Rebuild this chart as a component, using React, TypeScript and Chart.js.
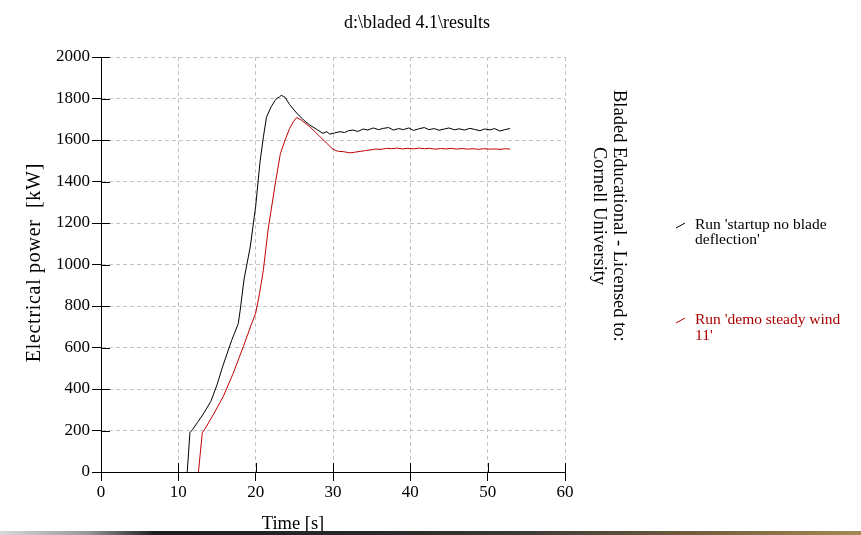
import { useEffect, useRef } from "react"
import { Chart, registerables } from "chart.js"

Chart.register(...registerables)

// [time s, power kW]
const startupRun: [number, number][] = [
  [11.15, 0], [11.5, 190], [11.85, 205], [12.5, 240], [13.15, 275], [14.2, 340],
  [15.0, 420], [15.7, 505], [16.9, 635], [17.75, 715], [18.0, 780], [18.5, 930],
  [19.3, 1085], [20.0, 1280], [20.55, 1490], [21.0, 1615], [21.4, 1710], [22.0, 1760],
  [22.5, 1790], [22.8, 1803], [23.1, 1808], [23.3, 1815], [23.6, 1810], [23.8, 1806],
  [24.4, 1770], [25.3, 1730], [26.2, 1696], [27.0, 1672], [27.9, 1651], [28.7, 1632],
  [29.2, 1640], [29.6, 1628], [30.2, 1634], [30.9, 1640], [31.5, 1636], [32.0, 1645],
  [32.6, 1648], [33.2, 1641], [33.9, 1653], [34.5, 1648], [35.2, 1658], [35.9, 1650],
  [36.5, 1656], [37.2, 1660], [37.8, 1648], [38.5, 1655], [39.1, 1650], [39.8, 1658],
  [40.4, 1646], [41.1, 1654], [41.8, 1660], [42.4, 1650], [43.1, 1655], [43.7, 1647],
  [44.4, 1653], [45.0, 1658], [45.7, 1649], [46.3, 1654], [47.0, 1648], [47.7, 1656],
  [48.3, 1651], [49.0, 1645], [49.6, 1653], [50.3, 1649], [50.9, 1655], [51.6, 1643],
  [52.2, 1650], [52.9, 1655],
]

const steadyWindRun: [number, number][] = [
  [12.6, 0], [13.1, 190], [13.35, 202], [14.5, 275], [15.8, 363], [17.1, 476],
  [18.4, 604], [19.5, 717], [20.0, 765], [20.5, 860], [21.0, 975], [21.6, 1166],
  [22.6, 1405], [23.2, 1535], [23.8, 1600], [24.4, 1656], [24.9, 1690], [25.3, 1708],
  [25.9, 1696], [27.0, 1664], [28.1, 1624], [29.2, 1584], [30.0, 1555], [30.7, 1545],
  [31.3, 1544], [32.2, 1538], [32.8, 1541], [33.5, 1545], [34.2, 1549], [34.8, 1552],
  [35.5, 1556], [36.2, 1555], [36.9, 1560], [37.6, 1558], [38.3, 1561], [39.0, 1557],
  [39.7, 1560], [40.4, 1557], [41.1, 1561], [41.8, 1558], [42.5, 1560], [43.2, 1556],
  [43.9, 1559], [44.6, 1557], [45.3, 1560], [46.0, 1556], [46.7, 1559], [47.4, 1556],
  [48.1, 1558], [48.8, 1555], [49.5, 1558], [50.2, 1556], [50.9, 1557], [51.6, 1555],
  [52.3, 1558], [52.9, 1556],
]

const timeRange = [0, 60]
const powerRange = [0, 2000]

const RED = "#c00000"
const SERIF = "'Liberation Serif', 'Times New Roman', serif"

// tick marks that also reach 9px into the plot area
const innerTicks = {
  id: "innerTicks",
  beforeDatasetsDraw(chart: any) {
    const { ctx, chartArea, scales } = chart
    ctx.save()
    ctx.strokeStyle = "#000"
    ctx.lineWidth = 1
    scales.x.ticks.forEach((_: any, i: number) => {
      const px = Math.round(scales.x.getPixelForTick(i)) + 0.5
      ctx.beginPath()
      ctx.moveTo(px, chartArea.bottom)
      ctx.lineTo(px, chartArea.bottom - 9)
      ctx.stroke()
    })
    scales.y.ticks.forEach((_: any, i: number) => {
      const py = Math.round(scales.y.getPixelForTick(i)) + 0.5
      ctx.beginPath()
      ctx.moveTo(chartArea.left, py)
      ctx.lineTo(chartArea.left + 9, py)
      ctx.stroke()
    })
    ctx.restore()
  },
}

function LegendMark({ color }: { color: string }) {
  return (
    <svg width="12" height="8" style={{ position: "absolute", left: -20, top: 5 }}>
      <line x1="1" y1="7" x2="10" y2="2" stroke={color} strokeWidth="1" />
    </svg>
  )
}

export default function App() {
  const chartRef = useRef<HTMLCanvasElement>(null)
  const chartInstance = useRef<Chart | null>(null)

  useEffect(() => {
    document.body.style.margin = "0"
    if (!chartRef.current) return
    if (chartInstance.current) chartInstance.current.destroy()

    const grid = {
      color: "#c4c4c4",
      lineWidth: 1,
      tickColor: "#000",
      tickBorderDash: [],
      tickLength: 9,
      drawTicks: true,
    }
    const border = { display: true, color: "#000", width: 1, dash: [4, 3] }
    const tickFont = { family: SERIF, size: 17 }

    chartInstance.current = new Chart(chartRef.current, {
      type: "line",
      data: {
        datasets: [
          {
            label: "Run 'startup no blade deflection'",
            data: startupRun.map(([x, y]) => ({ x, y })),
            borderColor: "#000",
            borderWidth: 1,
            pointRadius: 0,
            tension: 0,
          },
          {
            label: "Run 'demo steady wind 11'",
            data: steadyWindRun.map(([x, y]) => ({ x, y })),
            borderColor: RED,
            borderWidth: 1,
            pointRadius: 0,
            tension: 0,
          },
        ],
      },
      options: {
        animation: false,
        responsive: true,
        maintainAspectRatio: false,
        layout: { padding: { top: 57, right: 296, left: 0, bottom: 0 } },
        plugins: {
          legend: { display: false },
          tooltip: { enabled: false },
        },
        scales: {
          x: {
            type: "linear",
            min: timeRange[0],
            max: timeRange[1],
            afterFit: (s: any) => {
              s.height = 63
            },
            ticks: {
              stepSize: 10,
              color: "#000",
              padding: 1,
              font: tickFont,
              callback: (v: any) => String(v),
            },
            grid,
            border,
          },
          y: {
            type: "linear",
            min: powerRange[0],
            max: powerRange[1],
            afterFit: (s: any) => {
              s.width = 101
            },
            ticks: {
              stepSize: 200,
              color: "#000",
              padding: 2,
              font: tickFont,
              callback: (v: any) => String(v),
            },
            grid,
            border,
          },
        },
      },
      plugins: [innerTicks],
    })

    return () => {
      if (chartInstance.current) {
        chartInstance.current.destroy()
        chartInstance.current = null
      }
    }
  }, [])

  const text = { position: "absolute" as const, fontFamily: SERIF, whiteSpace: "nowrap" as const, color: "#000" }
  const centered = {
    position: "absolute" as const,
    display: "flex",
    alignItems: "center",
    justifyContent: "center",
  }

  return (
    <div style={{ position: "relative", width: 861, height: 535, background: "#fff", overflow: "hidden" }}>
      <canvas ref={chartRef} />
      <div style={{ ...text, left: 417, top: 22, fontSize: 18, transform: "translate(-50%, -50%)" }}>
        d:\bladed 4.1\results
      </div>
      <div style={{ ...centered, left: 22, top: 56, width: 22, height: 414 }}>
        <div
          style={{
            fontFamily: SERIF,
            whiteSpace: "pre",
            color: "#000",
            fontSize: 20,
            letterSpacing: "0.7px",
            lineHeight: "22px",
            writingMode: "vertical-rl",
            transform: "rotate(180deg)",
          }}
        >
          {"Electrical power  [kW]"}
        </div>
      </div>
      <div style={{ ...text, left: 293, top: 523, fontSize: 18.5, transform: "translate(-50%, -50%)" }}>
        Time [s]
      </div>
      <div style={{ ...centered, left: 590, top: 0, width: 40, height: 432 }}>
        <div
          style={{
            fontFamily: SERIF,
            whiteSpace: "nowrap",
            color: "#000",
            fontSize: 18.5,
            lineHeight: "20px",
            textAlign: "center",
            writingMode: "vertical-rl",
          }}
        >
          Bladed Educational - Licensed to:
          <br />
          Cornell University
        </div>
      </div>
      <div style={{ ...text, left: 695, top: 216, fontSize: 15.5, lineHeight: "15px" }}>
        <LegendMark color="#000" />
        Run 'startup no blade
        <br />
        deflection'
      </div>
      <div style={{ ...text, left: 695, top: 311, fontSize: 15.5, lineHeight: "16px", color: "#a80000" }}>
        <LegendMark color={RED} />
        Run 'demo steady wind
        <br />
        11'
      </div>
      <div
        style={{
          position: "absolute",
          left: 0,
          bottom: 0,
          width: 861,
          height: 4,
          background:
            "linear-gradient(90deg, #d8d8d8 0%, #9a9a9a 10%, #1e1e1e 18%, #2a2a2a 45%, #3c3a36 60%, #6e5c3c 80%, #a48a52 100%)",
        }}
      />
    </div>
  )
}
